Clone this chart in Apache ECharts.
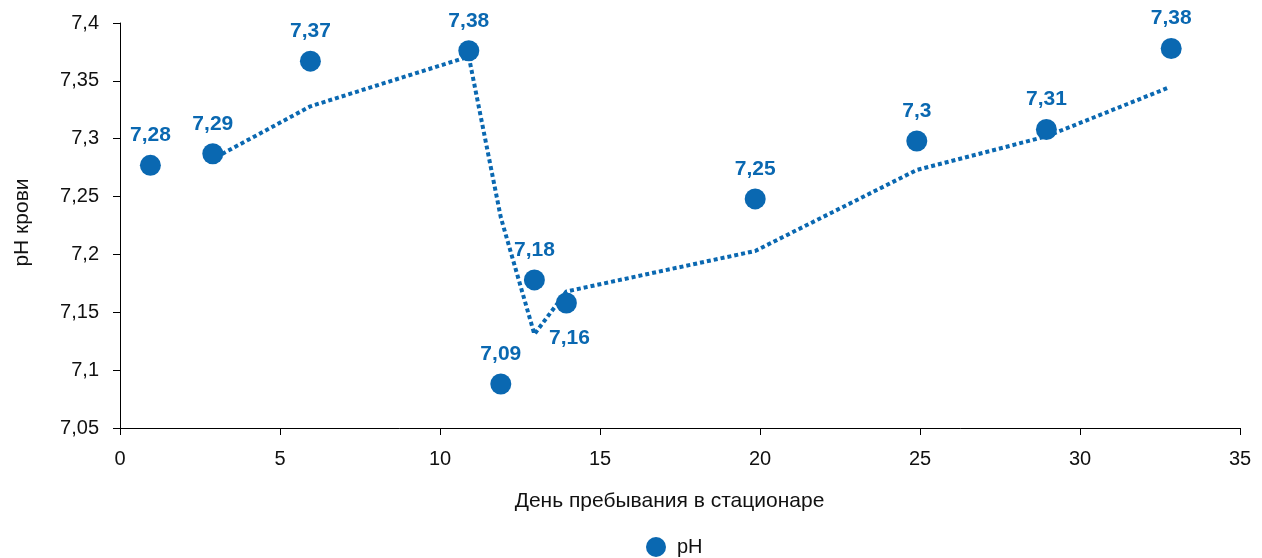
<!DOCTYPE html>
<html>
<head>
<meta charset="utf-8">
<script src="https://cdn.jsdelivr.net/npm/echarts@6/dist/echarts.min.js"></script>
<style>
html, body { margin: 0; padding: 0; background: #fff; }
#chart { width: 1262px; height: 558px; }
</style>
</head>
<body>
<div id="chart"></div>
<script>
// дни и значения pH
var days = [0.95, 2.9, 5.95, 10.9, 11.9, 12.95, 13.95, 19.85, 24.9, 28.95, 32.85];
var phValues = [7.277, 7.287, 7.367, 7.376, 7.088, 7.178, 7.158, 7.248, 7.298, 7.308, 7.378];

// линия тренда (скользящее среднее), точки
var trendDays = [3.0, 5.95, 10.9, 11.9, 12.95, 13.95, 19.85, 24.9, 28.95, 32.75];
var trendValues = [7.284, 7.328, 7.371, 7.232, 7.131, 7.168, 7.203, 7.273, 7.302, 7.344];

var blue = '#0a68b1';
var font = 'Liberation Sans, Arial, sans-serif';

function fmt(v) {
	return String(Math.round(v * 100) / 100).replace('.', ',');
}

var pts = [];
for (var i = 0; i < days.length; i++) {
	var p = { value: [days[i], phValues[i]] };
	if (i == 6) {
		// подпись 7,16 снизу справа
		p.label = { position: 'bottom', offset: [3, 5] };
	}
	pts.push(p);
}
var trend = [];
for (var j = 0; j < trendDays.length; j++) {
	trend.push([trendDays[j], trendValues[j]]);
}

var myChart = echarts.init(document.getElementById('chart'));
var option = {
	animation: false,
	grid: { left: 120, right: 22, top: 23, bottom: 130 },
	legend: {
		top: 532,
		left: 641,
		data: [{ name: 'pH', icon: 'circle' }],
		itemWidth: 20,
		itemHeight: 20,
		textStyle: { fontFamily: font, fontSize: 20, color: '#111', padding: [0, 0, 0, 6] }
	},
	xAxis: {
		type: 'value',
		min: 0,
		max: 35,
		interval: 5,
		name: 'День пребывания в стационаре',
		nameLocation: 'middle',
		nameGap: 63,
		nameTextStyle: { fontFamily: font, fontSize: 21, color: '#111', padding: [0, 21, 0, 0] },
		axisLine: { show: true, lineStyle: { color: '#000', width: 1 } },
		axisTick: { show: true, length: 7, lineStyle: { color: '#000' } },
		axisLabel: { fontFamily: font, fontSize: 20, color: '#111', margin: 21 },
		splitLine: { show: false }
	},
	yAxis: {
		type: 'value',
		min: 7.05,
		max: 7.4,
		interval: 0.05,
		name: 'pH крови',
		nameLocation: 'middle',
		nameGap: 87,
		nameTextStyle: { fontFamily: font, fontSize: 21, color: '#111', padding: [0, 0, 0, 6] },
		axisLine: { show: true, lineStyle: { color: '#000', width: 1 } },
		axisTick: { show: true, length: 7, lineStyle: { color: '#000' } },
		axisLabel: {
			fontFamily: font, fontSize: 20, color: '#111', margin: 21,
			formatter: function (v) { return fmt(v); }
		},
		splitLine: { show: false }
	},
	series: [
		{
			name: 'тренд',
			type: 'line',
			data: trend,
			symbol: 'none',
			lineStyle: { color: blue, width: 4, type: [4, 3] },
			z: 1
		},
		{
			name: 'pH',
			type: 'scatter',
			data: pts,
			symbolSize: 21,
			itemStyle: { color: blue, opacity: 1 },
			label: {
				show: true,
				position: 'top',
				distance: 9,
				fontFamily: font,
				fontSize: 21,
				fontWeight: 'bold',
				color: blue,
				formatter: function (p) { return fmt(p.value[1]); }
			},
			z: 2
		}
	]
};
myChart.setOption(option);
</script>
</body>
</html>
